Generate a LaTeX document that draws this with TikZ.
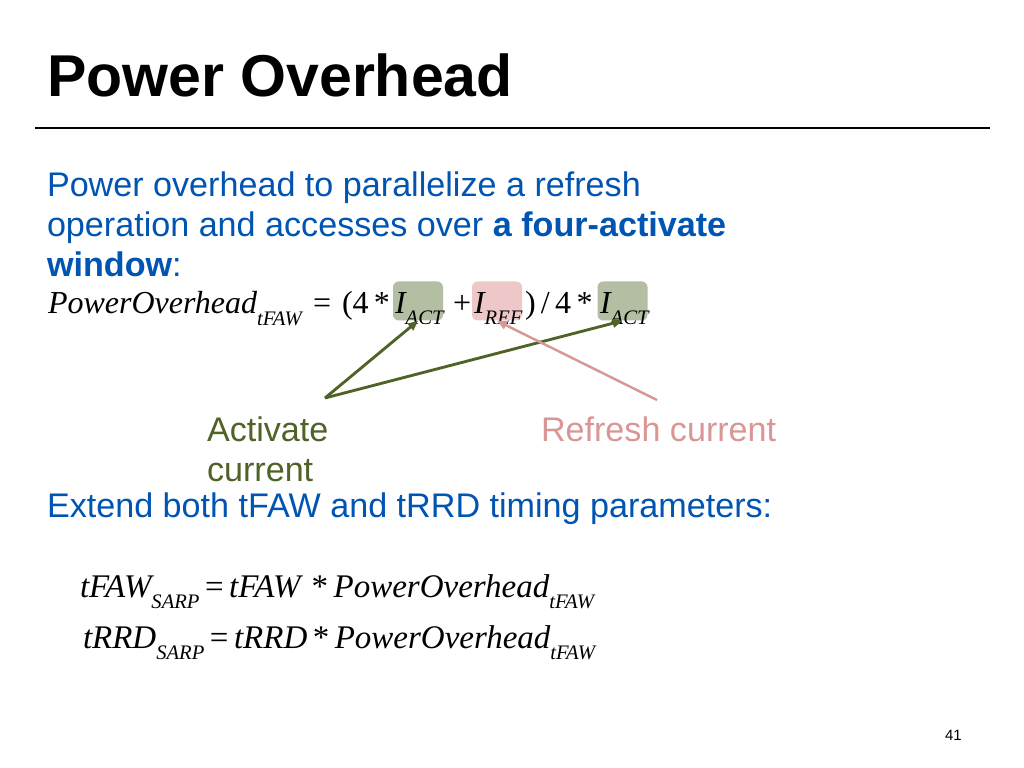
\documentclass[tikz,border=0pt]{standalone}
\usepackage{fontspec}
\setmainfont{Liberation Sans}
\newfontfamily\eqfont{Liberation Serif}
\usetikzlibrary{arrows.meta}
\definecolor{bodyblue}{RGB}{0,84,178}
\definecolor{actgreen}{RGB}{79,98,40}
\definecolor{refpink}{RGB}{217,150,148}
\definecolor{actfill}{RGB}{180,190,162}
\definecolor{reffill}{RGB}{238,200,200}
\newcommand\eqsub[2][8pt]{\raisebox{-#1}{\fontsize{14.5}{15}\selectfont #2}}
\begin{document}
\begin{tikzpicture}[x=0.703125pt,y=-0.703125pt,
  txt/.style={anchor=base west, inner sep=0, outer sep=0},
  body/.style={txt, text=bodyblue, font=\fontsize{24}{28}\selectfont},
  eq/.style={txt, font=\eqfont\fontsize{22.5}{27}\selectfont\itshape},
  loweq/.style={txt, font=\eqfont\fontsize{23.2}{27}\selectfont\itshape},
  curbox/.style={rounded corners=4, inner sep=0, minimum width=\boxw, minimum height=\boxh},
  actarrow/.style={draw=actgreen, line width=2pt, -{Triangle[length=7pt,width=6pt]}},
  refarrow/.style={draw=refpink, line width=1.7pt, -{Triangle[length=7pt,width=6pt]}}]
\pgfmathsetlengthmacro\boxw{50*0.703125};
\pgfmathsetlengthmacro\boxh{39*0.703125};
\useasboundingbox (0,0) rectangle (1024,768);
\fill[white] (0,0) rectangle (1024,768);
% title
\node[txt, font=\fontsize{41.5}{50}\selectfont\bfseries] (title) at (47,97) {Power Overhead};
\draw[line width=2.1pt] (35,128) -- (990,128);
% text
\node[body] (line1) at (47,197) {Power overhead to parallelize a refresh};
\node[body] (line2) at (47,237) {operation and accesses over \textbf{a four-activate}};
\node[body] (line3) at (47,277) {\textbf{window}:};
% boxes behind the currents
\node[curbox, fill=actfill] (act1) at (418,301) {};
\node[curbox, fill=reffill] (ref) at (497,301) {};
\node[curbox, fill=actfill] (act2) at (622.5,301) {};
% equation
\node[eq] (poweroh) at (48,313) {PowerOverhead\eqsub[9pt]{tFAW}};
\node[eq] (eqsign) at (313,313) {\upshape =};
\node[eq] (lpar) at (342,313) {\upshape (4\,*};
\node[eq] (iact1) at (395,313) {I\eqsub{ACT}};
\node[eq] (plus) at (453,313) {\upshape +};
\node[eq] (iref) at (474,313) {I\eqsub{REF}};
\node[eq] (rpar) at (525,313) {\upshape )\,/\,4\,*};
\node[eq] (iact2) at (600,313) {I\eqsub{ACT}};
% labels
\node[txt, text=actgreen, font=\fontsize{24}{28}\selectfont] (actlabel) at (207,441) {Activate};
\node[txt, text=actgreen, font=\fontsize{24}{28}\selectfont] (actlabel2) at (207,481) {current};
\node[txt, text=refpink, font=\fontsize{24}{28}\selectfont] (reflabel) at (541,441) {Refresh current};
\coordinate (acttail) at (325,398);
\coordinate (reftail) at (657,400);
\draw[actarrow] (acttail) -- (act1.south);
\draw[actarrow] (acttail) -- (act2.south);
\draw[refarrow] (reftail) -- (ref.south);
% timing
\node[body] (line4) at (47,517) {Extend both tFAW and tRRD timing parameters:};
\node[loweq] (tfawsarp) at (80,597) {tFAW\eqsub{SARP}\,{\upshape =}\,tFAW\,\,{\upshape *}\,PowerOverhead\eqsub{tFAW}};
\node[loweq] (trrdsarp) at (83,648) {tRRD\eqsub{SARP}\,{\upshape =}\,tRRD\,{\upshape *}\,PowerOverhead\eqsub{tFAW}};
\node[txt, font=\fontsize{10.5}{12}\selectfont] (pagenum) at (945,740) {41};
\end{tikzpicture}
\end{document}
